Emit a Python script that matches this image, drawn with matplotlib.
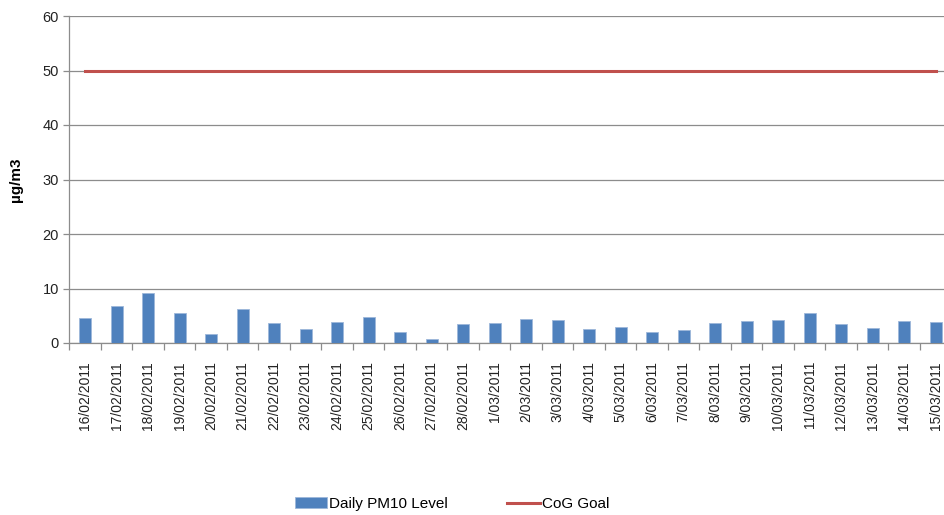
import numpy as np
import matplotlib.pyplot as plt
from matplotlib.ticker import FixedLocator

plt.rcParams['font.family'] = ['Liberation Sans', 'DejaVu Sans']

dates = ['16/02/2011', '17/02/2011', '18/02/2011', '19/02/2011', '20/02/2011',
         '21/02/2011', '22/02/2011', '23/02/2011', '24/02/2011', '25/02/2011',
         '26/02/2011', '27/02/2011', '28/02/2011', '1/03/2011', '2/03/2011',
         '3/03/2011', '4/03/2011', '5/03/2011', '6/03/2011', '7/03/2011',
         '8/03/2011', '9/03/2011', '10/03/2011', '11/03/2011', '12/03/2011',
         '13/03/2011', '14/03/2011', '15/03/2011']
pm10 = [4.6, 6.7, 9.2, 5.5, 1.7, 6.3, 3.6, 2.5, 3.8, 4.8, 2.1, 0.8, 3.4, 3.6,
        4.4, 4.2, 2.5, 2.9, 2.1, 2.3, 3.6, 4.0, 4.2, 5.5, 3.4, 2.7, 4.0, 3.8]
goal = [50] * len(dates)

blue = '#4F81BD'
red = '#C0504D'
grey = '#8C8C8C'

fig = plt.figure(figsize=(9.45, 5.15), dpi=100)
# plot area runs slightly past the right edge of the image, as in the original
ax = fig.add_axes([69.5 / 945, 1 - 343 / 515, 882 / 945, 327 / 515])

x = np.arange(len(dates))
bars = ax.bar(x, pm10, width=0.38, color=blue, edgecolor='#9DB7DA',
              linewidth=0.6, label='Daily PM10 Level', zorder=3)
line, = ax.plot(x, goal, color=red, linewidth=2.2, label='CoG Goal', zorder=4)

ax.set_xlim(-0.5, len(dates) - 0.5)
ax.set_ylim(0, 60)
ax.set_yticks(range(0, 61, 10))
ax.yaxis.grid(True, color=grey, linewidth=0.9, zorder=0)

ax.set_xticks(x)
ax.set_xticklabels(dates, rotation=90, fontsize=10, color='#222222')
ax.tick_params(axis='x', which='major', length=0, pad=13)
ax.xaxis.set_minor_locator(FixedLocator(np.arange(-0.5, len(dates), 1)))
ax.tick_params(axis='x', which='minor', length=5, color=grey, width=0.9)
ax.tick_params(axis='y', length=4, color=grey, width=0.9, labelsize=10.5,
               labelcolor='#222222')

for s in ['top', 'right']:
    ax.spines[s].set_visible(False)
for s in ['left', 'bottom']:
    ax.spines[s].set_color(grey)
    ax.spines[s].set_linewidth(0.9)

ax.set_ylabel('µg/m3', fontsize=11, fontweight='bold', labelpad=14)

fig.legend([bars, line], ['Daily PM10 Level', 'CoG Goal'], loc='center',
           bbox_to_anchor=(452 / 945, 1 - 504 / 515), ncol=2, frameon=False,
           fontsize=11, handlelength=2.1, columnspacing=3.9,
           handletextpad=0.15)

fig.savefig('out.png', dpi=100)
